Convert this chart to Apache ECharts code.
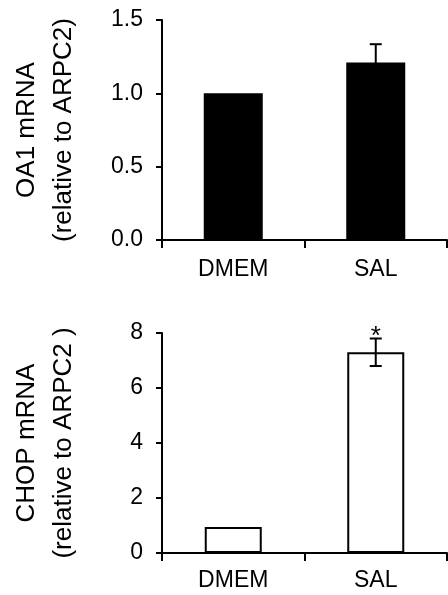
<!DOCTYPE html>
<html>
<head>
<meta charset="utf-8">
<script src="https://cdn.jsdelivr.net/npm/echarts@6/dist/echarts.min.js"></script>
<style>
html,body{margin:0;padding:0;background:#fff;}
#chart{width:448px;height:595px;}
</style>
</head>
<body>
<div id="chart"></div>
<script>
// ---- data ----
const categories = ['DMEM', 'SAL'];
const oa1Values = [1.0, 1.21];
const oa1Errors = [0, 0.125];
const chopValues = [0.95, 7.3];
const chopErrors = [0, 0.5];
const chopSignif = ['', '*'];
const oa1Axis = { min: 0, max: 1.5, interval: 0.5 };
const chopAxis = { min: 0, max: 8, interval: 2 };
const oa1Name = 'OA1 mRNA\n(relative to ARPC2)';
const chopName = 'CHOP mRNA\n(relative to ARPC2 )';

const FONT = 'Liberation Sans, Arial, Helvetica, sans-serif';
const chart = echarts.init(document.getElementById('chart'), null, { renderer: 'canvas' });

function errRenderer(values, errors, signif) {
  return function (params, api) {
    const i = params.dataIndex;
    const e = errors[i];
    const children = [];
    const x = api.coord([api.value(0), values[i]])[0];
    const yTop = api.coord([api.value(0), values[i] + e])[1];
    const yBot = api.coord([api.value(0), values[i] - e])[1];
    const lineStyle = { stroke: '#000', lineWidth: 2 };
    if (e > 0) {
      children.push({ type: 'line', shape: { x1: x, y1: yTop, x2: x, y2: yBot }, style: lineStyle });
      children.push({ type: 'line', shape: { x1: x - 6, y1: yTop, x2: x + 6, y2: yTop }, style: lineStyle });
      children.push({ type: 'line', shape: { x1: x - 6, y1: yBot, x2: x + 6, y2: yBot }, style: lineStyle });
    }
    const s = signif ? signif[i] : '';
    if (s) {
      children.push({
        type: 'text',
        style: { text: s, x: x, y: yTop - 2, align: 'center', verticalAlign: 'middle',
                 fontSize: 26, fontFamily: FONT, fill: '#000' }
      });
    }
    return { type: 'group', children: children };
  };
}

const axisLineStyle = { color: '#000', width: 2 };

function xAxisCfg(gridIndex, margin) {
  return {
    type: 'category', gridIndex: gridIndex, data: categories,
    boundaryGap: true,
    axisLine: { show: true, lineStyle: axisLineStyle },
    axisTick: { show: true, length: 8, inside: false, lineStyle: axisLineStyle },
    axisLabel: { color: '#000', fontSize: 23, fontFamily: FONT, margin: margin },
    splitLine: { show: false }
  };
}
function yAxisCfg(gridIndex, ax, name, fmt) {
  return {
    type: 'value', gridIndex: gridIndex, min: ax.min, max: ax.max, interval: ax.interval,
    name: name, nameLocation: 'middle', nameRotate: 90, nameGap: 80,
    nameTextStyle: { color: '#000', fontSize: 26, fontFamily: FONT, lineHeight: 37 },
    axisLine: { show: true, lineStyle: axisLineStyle },
    axisTick: { show: true, length: 6, inside: false, lineStyle: axisLineStyle },
    axisLabel: { color: '#000', fontSize: 23, fontFamily: FONT, margin: 19, formatter: fmt },
    splitLine: { show: false }
  };
}

chart.setOption({
  animation: false,
  backgroundColor: '#fff',
  grid: [
    { left: 161, top: 20, width: 286, height: 220, containLabel: false },
    { left: 161, top: 333, width: 286, height: 220, containLabel: false }
  ],
  xAxis: [xAxisCfg(0, 18), xAxisCfg(1, 16)],
  yAxis: [
    yAxisCfg(0, oa1Axis, oa1Name, v => v.toFixed(1)),
    yAxisCfg(1, chopAxis, chopName, v => String(v))
  ],
  series: [
    {
      type: 'bar', xAxisIndex: 0, yAxisIndex: 0, data: oa1Values,
      barWidth: 59, itemStyle: { color: '#000' }, z: 2
    },
    {
      type: 'custom', xAxisIndex: 0, yAxisIndex: 0, z: 3,
      data: categories.map((c, i) => [i, oa1Values[i]]),
      encode: { x: 0, y: 1 },
      renderItem: errRenderer(oa1Values, oa1Errors, null)
    },
    {
      type: 'bar', xAxisIndex: 1, yAxisIndex: 1, data: chopValues,
      barWidth: 57, itemStyle: { color: '#fff', borderColor: '#000', borderWidth: 2 }, z: 2
    },
    {
      type: 'custom', xAxisIndex: 1, yAxisIndex: 1, z: 3,
      data: categories.map((c, i) => [i, chopValues[i]]),
      encode: { x: 0, y: 1 },
      renderItem: errRenderer(chopValues, chopErrors, chopSignif)
    }
  ]
});
</script>
</body>
</html>
